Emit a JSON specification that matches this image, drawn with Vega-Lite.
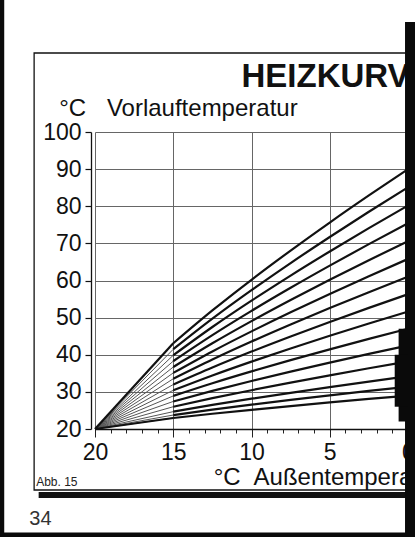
{
  "$schema": "https://vega.github.io/schema/vega-lite/v6.json",
  "width": 313,
  "height": 297,
  "autosize": {"type": "none"},
  "padding": {"left": 95, "top": 132, "right": 7, "bottom": 108},
  "background": "#ffffff",
  "config": {"view": {"stroke": null}, "font": "Liberation Sans"},
  "datasets": {
    "curves": [
      {"k":1,"x":20,"t":20},{"k":1,"x":15,"t":43.09},{"k":1,"x":12.5,"t":51.94},{"k":1,"x":10,"t":60.2},{"k":1,"x":7.5,"t":68.06},{"k":1,"x":5,"t":75.61},{"k":1,"x":2.5,"t":82.91},{"k":1,"x":0,"t":90},
      {"k":2,"x":20,"t":20},{"k":2,"x":15,"t":41.48},{"k":2,"x":12.5,"t":49.71},{"k":2,"x":10,"t":57.39},{"k":2,"x":7.5,"t":64.7},{"k":2,"x":5,"t":71.72},{"k":2,"x":2.5,"t":78.51},{"k":2,"x":0,"t":85.1},
      {"k":3,"x":20,"t":20},{"k":3,"x":15,"t":39.86},{"k":3,"x":12.5,"t":47.47},{"k":3,"x":10,"t":54.57},{"k":3,"x":7.5,"t":61.33},{"k":3,"x":5,"t":67.82},{"k":3,"x":2.5,"t":74.1},{"k":3,"x":0,"t":80.2},
      {"k":4,"x":20,"t":20},{"k":4,"x":15,"t":38.28},{"k":4,"x":12.5,"t":45.28},{"k":4,"x":10,"t":51.82},{"k":4,"x":7.5,"t":58.04},{"k":4,"x":5,"t":64.01},{"k":4,"x":2.5,"t":69.79},{"k":4,"x":0,"t":75.4},
      {"k":5,"x":20,"t":20},{"k":5,"x":15,"t":36.69},{"k":5,"x":12.5,"t":43.09},{"k":5,"x":10,"t":49.06},{"k":5,"x":7.5,"t":54.74},{"k":5,"x":5,"t":60.2},{"k":5,"x":2.5,"t":65.47},{"k":5,"x":0,"t":70.6},
      {"k":6,"x":20,"t":20},{"k":6,"x":15,"t":35.11},{"k":6,"x":12.5,"t":40.9},{"k":6,"x":10,"t":46.3},{"k":6,"x":7.5,"t":51.45},{"k":6,"x":5,"t":56.38},{"k":6,"x":2.5,"t":61.16},{"k":6,"x":0,"t":65.8},
      {"k":7,"x":20,"t":20},{"k":7,"x":15,"t":33.53},{"k":7,"x":12.5,"t":38.71},{"k":7,"x":10,"t":43.55},{"k":7,"x":7.5,"t":48.15},{"k":7,"x":5,"t":52.57},{"k":7,"x":2.5,"t":56.85},{"k":7,"x":0,"t":61},
      {"k":8,"x":20,"t":20},{"k":8,"x":15,"t":31.98},{"k":8,"x":12.5,"t":36.56},{"k":8,"x":10,"t":40.85},{"k":8,"x":7.5,"t":44.92},{"k":8,"x":5,"t":48.84},{"k":8,"x":2.5,"t":52.62},{"k":8,"x":0,"t":56.3},
      {"k":9,"x":20,"t":20},{"k":9,"x":15,"t":30.42},{"k":9,"x":12.5,"t":34.42},{"k":9,"x":10,"t":38.15},{"k":9,"x":7.5,"t":41.7},{"k":9,"x":5,"t":45.1},{"k":9,"x":2.5,"t":48.4},{"k":9,"x":0,"t":51.6},
      {"k":10,"x":20,"t":20},{"k":10,"x":15,"t":28.91},{"k":10,"x":12.5,"t":32.32},{"k":10,"x":10,"t":35.51},{"k":10,"x":7.5,"t":38.54},{"k":10,"x":5,"t":41.45},{"k":10,"x":2.5,"t":44.26},{"k":10,"x":0,"t":47},
      {"k":11,"x":20,"t":20},{"k":11,"x":15,"t":27.42},{"k":11,"x":12.5,"t":30.27},{"k":11,"x":10,"t":32.92},{"k":11,"x":7.5,"t":35.45},{"k":11,"x":5,"t":37.87},{"k":11,"x":2.5,"t":40.22},{"k":11,"x":0,"t":42.5},
      {"k":12,"x":20,"t":20},{"k":12,"x":15,"t":26},{"k":12,"x":12.5,"t":28.3},{"k":12,"x":10,"t":30.45},{"k":12,"x":7.5,"t":32.5},{"k":12,"x":5,"t":34.46},{"k":12,"x":2.5,"t":36.36},{"k":12,"x":0,"t":38.2},
      {"k":13,"x":20,"t":20},{"k":13,"x":15,"t":24.68},{"k":13,"x":12.5,"t":26.48},{"k":13,"x":10,"t":28.16},{"k":13,"x":7.5,"t":29.75},{"k":13,"x":5,"t":31.28},{"k":13,"x":2.5,"t":32.76},{"k":13,"x":0,"t":34.2},
      {"k":14,"x":20,"t":20},{"k":14,"x":15,"t":23.76},{"k":14,"x":12.5,"t":25.2},{"k":14,"x":10,"t":26.55},{"k":14,"x":7.5,"t":27.83},{"k":14,"x":5,"t":29.06},{"k":14,"x":2.5,"t":30.25},{"k":14,"x":0,"t":31.4},
      {"k":15,"x":20,"t":20},{"k":15,"x":15,"t":22.97},{"k":15,"x":12.5,"t":24.11},{"k":15,"x":10,"t":25.17},{"k":15,"x":7.5,"t":26.18},{"k":15,"x":5,"t":27.15},{"k":15,"x":2.5,"t":28.09},{"k":15,"x":0,"t":29}
    ]
  },
  "encoding": {
    "x": {
      "field": "x", "type": "quantitative",
      "scale": {"domain": [0, 20], "reverse": true, "nice": false, "zero": false},
      "axis": {
        "orient": "bottom", "title": null,
        "values": [0,1,2,3,4,5,6,7,8,9,10,11,12,13,14,15,16,17,18,19,20],
        "labelExpr": "datum.value % 5 === 0 ? datum.label : ''",
        "labelFont": "Liberation Sans", "labelFontSize": 23, "labelColor": "#111",
        "labelPadding": 4, "labelFlush": false, "labelOverlap": false,
        "domainColor": "#111", "domainWidth": 1.5,
        "tickColor": "#222", "tickWidth": 1,
        "tickSize": {"condition": {"test": "datum.value % 5 === 0", "value": 8}, "value": 4},
        "grid": true, "gridColor": "#666", "gridWidth": 1,
        "gridOpacity": {"condition": {"test": "datum.value % 5 === 0", "value": 1}, "value": 0}
      }
    },
    "y": {
      "field": "t", "type": "quantitative",
      "scale": {"domain": [20, 100], "nice": false, "zero": false},
      "axis": {
        "orient": "left", "title": null, "offset": 4,
        "values": [20,30,40,50,60,70,80,90,100],
        "labelFont": "Liberation Sans", "labelFontSize": 23, "labelColor": "#111",
        "labelPadding": 4, "labelFlush": false,
        "domainColor": "#111", "domainWidth": 1.3,
        "tickColor": "#111", "tickWidth": 1.2, "tickSize": 6,
        "grid": true, "gridColor": "#666", "gridWidth": 1
      }
    }
  },
  "layer": [
    {
      "data": {"name": "curves"},
      "transform": [{"filter": "datum.x >= 15"}],
      "mark": {"type": "line", "color": "#555", "strokeWidth": 1},
      "encoding": {"detail": {"field": "k"}}
    },
    {
      "data": {"name": "curves"},
      "transform": [{"filter": "datum.x >= 15 && (datum.k == 1 || datum.k == 15)"}],
      "mark": {"type": "line", "color": "#111", "strokeWidth": 2.2},
      "encoding": {"detail": {"field": "k"}}
    },
    {
      "data": {"name": "curves"},
      "transform": [{"filter": "datum.x <= 15"}],
      "mark": {"type": "line", "color": "#111", "strokeWidth": 2.2, "interpolate": "monotone"},
      "encoding": {"detail": {"field": "k"}}
    },
    {
      "data": {"values": [{"x": 23.89, "x2": -1, "t": 3.57, "t2": 121.28}]},
      "mark": {"type": "rect", "filled": false, "color": "#111", "strokeWidth": 1.3, "clip": false},
      "encoding": {"x2": {"field": "x2"}, "y2": {"field": "t2"}}
    },
    {
      "data": {"values": [{"x": 23.6, "x2": -1, "t": 1.41, "t2": 3.03}]},
      "mark": {"type": "rect", "color": "#111", "clip": false},
      "encoding": {"x2": {"field": "x2"}, "y2": {"field": "t2"}}
    },
    {
      "data": {"values": [{"text": "HEIZKURV", "x": 10.64, "t": 112.1}]},
      "mark": {"type": "text", "align": "left", "baseline": "alphabetic", "font": "Liberation Sans", "fontSize": 33, "fontWeight": "bold", "color": "#111", "clip": false},
      "encoding": {"text": {"field": "text"}}
    },
    {
      "data": {"values": [
        {"text": "°C", "x": 22.29, "t": 104.3},
        {"text": "Vorlauftemperatur", "x": 19.24, "t": 104.3},
        {"text": "°C", "x": 12.42, "t": 4.92},
        {"text": "Außentempera", "x": 9.87, "t": 4.92}
      ]},
      "mark": {"type": "text", "align": "left", "baseline": "alphabetic", "font": "Liberation Sans", "fontSize": 24, "color": "#111", "clip": false},
      "encoding": {"text": {"field": "text"}}
    },
    {
      "data": {"values": [{"text": "Abb. 15", "x": 23.76, "t": 4.65}]},
      "mark": {"type": "text", "align": "left", "baseline": "alphabetic", "font": "Liberation Sans", "fontSize": 12, "color": "#222", "clip": false},
      "encoding": {"text": {"field": "text"}}
    },
    {
      "data": {"values": [{"text": "34", "x": 24.2, "t": -5.86}]},
      "mark": {"type": "text", "align": "left", "baseline": "alphabetic", "font": "Liberation Sans", "fontSize": 20, "color": "#333", "clip": false},
      "encoding": {"text": {"field": "text"}}
    },
    {
      "data": {"values": [
        {"x": 0.19, "x2": -1, "t": -10, "t2": 129.6},
        {"x": 0.6, "x2": 0, "t": 22, "t2": 47},
        {"x": 0.85, "x2": 0, "t": 26, "t2": 40},
        {"x": 26.2, "x2": 25.8, "t": -10, "t2": 136},
        {"x": 26.2, "x2": -1, "t": -10, "t2": -7.9}
      ]},
      "mark": {"type": "rect", "color": "#0a0a0a", "clip": false},
      "encoding": {"x2": {"field": "x2"}, "y2": {"field": "t2"}}
    }
  ]
}
